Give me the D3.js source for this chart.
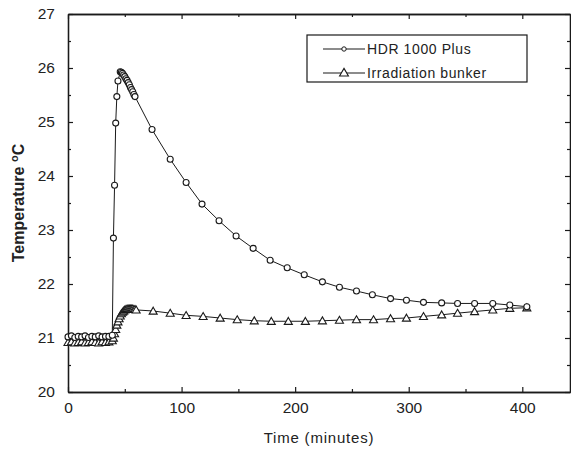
<!DOCTYPE html>
<html>
<head>
<meta charset="utf-8">
<script src="https://cdn.jsdelivr.net/npm/d3@7"></script>
<style>
  body { margin: 0; background: #fff; }
  svg { display: block; font-family: "Liberation Sans", Arial, sans-serif; }
</style>
</head>
<body>
<svg id="chart" width="571" height="449"></svg>
<script>
// HDR 1000 Plus (circles)
const hdrTime = [0, 3, 6, 9, 12, 15, 18, 21, 24, 27, 30, 33, 36, 39,
  40, 41, 42, 43, 44,
  46, 47, 48, 49, 50, 51, 52, 53, 54, 55, 56, 57, 58, 59,
  74, 90, 104, 118, 133, 148, 163, 178, 193, 208, 224, 239, 254, 268, 284, 298, 313, 329, 343, 358, 374, 389, 404];
const hdrTemp = [21.02, 21.04, 21.01, 21.03, 21.02, 21.04, 21.01, 21.03, 21.02, 21.04, 21.02, 21.03, 21.03, 21.05,
  22.85, 23.83, 24.98, 25.47, 25.76,
  25.93, 25.92, 25.90, 25.87, 25.84, 25.80, 25.77, 25.73, 25.69, 25.64, 25.60, 25.56, 25.51, 25.47,
  24.86, 24.31, 23.88, 23.48, 23.17, 22.89, 22.66, 22.44, 22.30, 22.17, 22.04, 21.94, 21.87, 21.80, 21.73, 21.70, 21.66, 21.65, 21.64, 21.64, 21.64, 21.61, 21.58];

// Irradiation bunker (triangles)
const bunkerTime = [0, 3, 6, 9, 12, 15, 18, 21, 24, 27, 30, 33, 36, 39,
  40, 41, 42, 43, 44, 45, 46, 47, 48, 49, 50, 51, 52, 53, 54, 55, 56, 57, 58, 59, 60,
  75, 90, 104, 119, 134, 149, 164, 179, 194, 209, 224, 239, 254, 269, 284, 298, 313, 329, 343, 358, 374, 389, 404];
const bunkerTemp = [20.92, 20.93, 20.91, 20.92, 20.93, 20.91, 20.92, 20.93, 20.92, 20.91, 20.93, 20.92, 20.93, 20.95,
  21.00, 21.08, 21.16, 21.24, 21.30, 21.36, 21.41, 21.45, 21.48, 21.50, 21.52, 21.53, 21.54, 21.54, 21.54, 21.54, 21.54, 21.54, 21.53, 21.53, 21.52,
  21.50, 21.46, 21.42, 21.40, 21.37, 21.34, 21.32, 21.31, 21.31, 21.31, 21.32, 21.33, 21.34, 21.34, 21.36, 21.37, 21.40, 21.43, 21.46, 21.49, 21.52, 21.55, 21.56];

const xTicks = [0, 100, 200, 300, 400];
const yTicks = [20, 21, 22, 23, 24, 25, 26, 27];
const seriesNames = ['HDR 1000 Plus', 'Irradiation bunker'];

const margin = { top: 14, right: 1, bottom: 57, left: 68 };
const width = 571, height = 449;

const svg = d3.select('#chart');

const x = d3.scaleLinear().domain([0, 442]).range([margin.left, width - margin.right]);
const y = d3.scaleLinear().domain([20, 27]).range([height - margin.bottom, margin.top]);

const ink = '#1a1a1a';

// axes with inward ticks
const xMinor = d3.range(50, 442, 100);
const yMinor = d3.range(20.5, 27, 1);

function tickAxis(axisFn, scale, ticks, size, transform, labels) {
  const g = svg.append('g').attr('transform', transform)
    .call(axisFn(scale).tickValues(ticks).tickSize(size).tickSizeOuter(0)
      .tickFormat(labels ? d3.format('d') : ''));
  g.select('.domain').attr('stroke', ink).attr('stroke-width', 1.3);
  g.selectAll('.tick line').attr('stroke', ink).attr('stroke-width', 1.2);
  return g;
}

const bx = tickAxis(d3.axisBottom, x, xTicks, -5, `translate(0,${y(20)})`, true);
bx.selectAll('text').attr('y', 10).attr('font-size', 15.5).attr('fill', '#222');
tickAxis(d3.axisBottom, x, xMinor, -3, `translate(0,${y(20)})`, false);
tickAxis(d3.axisTop, x, xTicks, -5, `translate(0,${y(27)})`, false);
tickAxis(d3.axisTop, x, xMinor, -3, `translate(0,${y(27)})`, false);

const ly = tickAxis(d3.axisLeft, y, yTicks, -5, `translate(${x(0)},0)`, true);
ly.selectAll('text').attr('x', -13).attr('font-size', 15.5).attr('fill', '#222');
tickAxis(d3.axisLeft, y, yMinor, -3, `translate(${x(0)},0)`, false);
tickAxis(d3.axisRight, y, yTicks, -5, `translate(${x(442)},0)`, false);
tickAxis(d3.axisRight, y, yMinor, -3, `translate(${x(442)},0)`, false);

// axis titles
svg.append('text')
  .attr('x', (x(0) + x(442)) / 2).attr('y', 443)
  .attr('text-anchor', 'middle').attr('font-size', 15).attr('fill', '#222')
  .attr('letter-spacing', 0.8)
  .text('Time (minutes)');

const yt = svg.append('text')
  .attr('transform', `translate(24,${(y(20) + y(27)) / 2}) rotate(-90)`)
  .attr('text-anchor', 'middle').attr('font-size', 16).attr('font-weight', 'bold').attr('fill', '#222');
yt.append('tspan').text('Temperature ');
yt.append('tspan').attr('dy', -6).attr('font-size', 11).text('o');
yt.append('tspan').attr('dy', 6).text('C');

// series
const hdr = hdrTime.map((t, i) => [t, hdrTemp[i]]);
const bunker = bunkerTime.map((t, i) => [t, bunkerTemp[i]]);

const line = d3.line().x(d => x(d[0])).y(d => y(d[1]));

[bunker, hdr].forEach(data => {
  svg.append('path').datum(data)
    .attr('d', line).attr('fill', 'none')
    .attr('stroke', ink).attr('stroke-width', 1);
});

const tri = d3.symbol().type(d3.symbolTriangle).size(28);

svg.append('g').selectAll('path').data(bunker).join('path')
  .attr('d', tri)
  .attr('transform', d => `translate(${x(d[0])},${y(d[1]) + 0.8})`)
  .attr('fill', '#fff').attr('stroke', ink).attr('stroke-width', 1.1);

svg.append('g').selectAll('circle').data(hdr).join('circle')
  .attr('cx', d => x(d[0])).attr('cy', d => y(d[1])).attr('r', 3)
  .attr('fill', '#fff').attr('stroke', ink).attr('stroke-width', 1.1);

// legend
const legend = svg.append('g');
legend.append('rect')
  .attr('x', 307).attr('y', 35).attr('width', 220).attr('height', 47)
  .attr('fill', '#fff').attr('stroke', ink).attr('stroke-width', 1.2);

seriesNames.forEach((name, i) => {
  const ly0 = 49 + i * 24;
  legend.append('line')
    .attr('x1', 323).attr('x2', 365).attr('y1', ly0).attr('y2', ly0)
    .attr('stroke', ink).attr('stroke-width', 1.2);
  if (i === 0) {
    legend.append('circle').attr('cx', 344).attr('cy', ly0).attr('r', 2.2)
      .attr('fill', '#fff').attr('stroke', ink).attr('stroke-width', 1);
  } else {
    legend.append('path').attr('d', d3.symbol().type(d3.symbolTriangle).size(34))
      .attr('transform', `translate(344,${ly0 + 0.5})`)
      .attr('fill', '#fff').attr('stroke', ink).attr('stroke-width', 1.1);
  }
  legend.append('text')
    .attr('x', 367).attr('y', ly0 + 5)
    .attr('font-size', 14).attr('letter-spacing', 0.6).attr('fill', '#222')
    .text(name);
});
</script>
</body>
</html>
